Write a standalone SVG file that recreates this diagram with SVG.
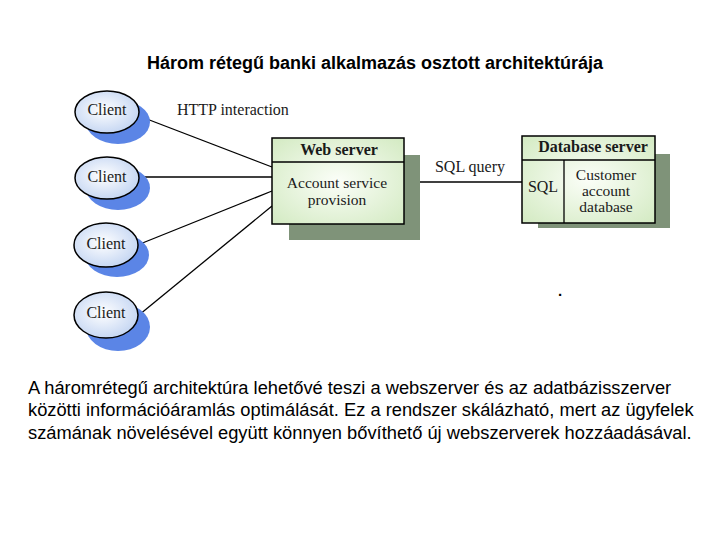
<svg xmlns="http://www.w3.org/2000/svg" width="720" height="540" viewBox="0 0 720 540">
<defs>
<radialGradient id="cg" cx="0.45" cy="0.45" r="0.6">
<stop offset="0" stop-color="#ffffff"/>
<stop offset="1" stop-color="#c2d4f2"/>
</radialGradient>
<radialGradient id="bg" cx="0.5" cy="0.5" r="0.7">
<stop offset="0" stop-color="#fbfef8"/>
<stop offset="1" stop-color="#d3eac2"/>
</radialGradient>
<style>
.sh{fill:#5b85e6}
.cl{fill:url(#cg);stroke:#000;stroke-width:1.5}
.bx{fill:url(#bg);stroke:#000;stroke-width:1.5}
.bs{fill:#7f9379}
.ln{stroke:#000;stroke-width:1.3;fill:none}
.t{font-family:"Liberation Serif",serif;font-size:16px;fill:#1a1a1a}
.ts{font-family:"Liberation Serif",serif;font-size:15.5px;fill:#1a1a1a}
.tb{font-family:"Liberation Serif",serif;font-size:16px;font-weight:bold;fill:#1a1a1a}
.ti{font-family:"Liberation Sans",Arial,sans-serif;font-size:18px;font-weight:bold;fill:#000}
.p{font-family:"Liberation Sans",Arial,sans-serif;font-size:18.3px;fill:#000}
</style>
</defs>
<rect width="720" height="540" fill="#fff"/>
<text class="ti" x="375" y="69" text-anchor="middle">Három rétegű banki alkalmazás osztott architektúrája</text>

<g id="connectors">
<line class="ln" x1="139" y1="116" x2="272" y2="167"/>
<line class="ln" x1="140" y1="177" x2="272" y2="177"/>
<line class="ln" x1="140" y1="244" x2="272" y2="191"/>
<line class="ln" x1="139" y1="315" x2="272" y2="206"/>
<line class="ln" x1="404" y1="182" x2="522" y2="182"/>
<text class="t" x="177" y="115">HTTP interaction</text>
<text class="t" x="470" y="172" text-anchor="middle">SQL query</text>
</g>

<g id="client1">
<ellipse class="sh" cx="118" cy="122" rx="32" ry="22"/>
<ellipse class="cl" cx="107" cy="112" rx="32" ry="21"/>
<text class="t" x="107" y="115" text-anchor="middle">Client</text>
</g>
<g id="client2">
<ellipse class="sh" cx="118" cy="188" rx="32" ry="22"/>
<ellipse class="cl" cx="107" cy="178" rx="32" ry="21"/>
<text class="t" x="107" y="182" text-anchor="middle">Client</text>
</g>
<g id="client3">
<ellipse class="sh" cx="117" cy="255" rx="32" ry="22"/>
<ellipse class="cl" cx="106" cy="245" rx="32" ry="22"/>
<text class="t" x="106" y="249" text-anchor="middle">Client</text>
</g>
<g id="client4">
<ellipse class="sh" cx="118" cy="327" rx="32" ry="24"/>
<ellipse class="cl" cx="106" cy="315" rx="32" ry="23"/>
<text class="t" x="106" y="318" text-anchor="middle">Client</text>
</g>

<g id="webserver">
<rect class="bs" x="289" y="155" width="131" height="85"/>
<rect class="bx" x="272" y="138" width="132" height="86"/>
<line class="ln" x1="272" y1="162" x2="404" y2="162"/>
<text class="tb" x="339" y="155" text-anchor="middle">Web server</text>
<text class="ts" x="337" y="188" text-anchor="middle">Account service</text>
<text class="ts" x="337" y="205" text-anchor="middle">provision</text>
</g>

<g id="dbserver">
<rect class="bs" x="538" y="154" width="132" height="74"/>
<rect class="bx" x="522" y="136" width="133" height="87"/>
<line class="ln" x1="522" y1="160" x2="655" y2="160"/>
<line class="ln" x1="564" y1="160" x2="564" y2="223"/>
<text class="tb" x="593" y="152" text-anchor="middle">Database server</text>
<text class="t" x="543" y="192" text-anchor="middle">SQL</text>
<text class="ts" x="606" y="180" text-anchor="middle">Customer</text>
<text class="ts" x="606" y="196" text-anchor="middle">account</text>
<text class="ts" x="606" y="212" text-anchor="middle">database</text>
</g>

<text x="558" y="296" font-family="Liberation Sans,sans-serif" font-size="15" font-weight="bold" fill="#000">.</text>

<text class="p" x="28" y="394">A háromrétegű architektúra lehetővé teszi a webszerver és az adatbázisszerver</text>
<text class="p" x="28" y="416">közötti információáramlás optimálását. Ez a rendszer skálázható, mert az ügyfelek</text>
<text class="p" x="28" y="439">számának növelésével együtt könnyen bővíthető új webszerverek hozzáadásával.</text>
</svg>
